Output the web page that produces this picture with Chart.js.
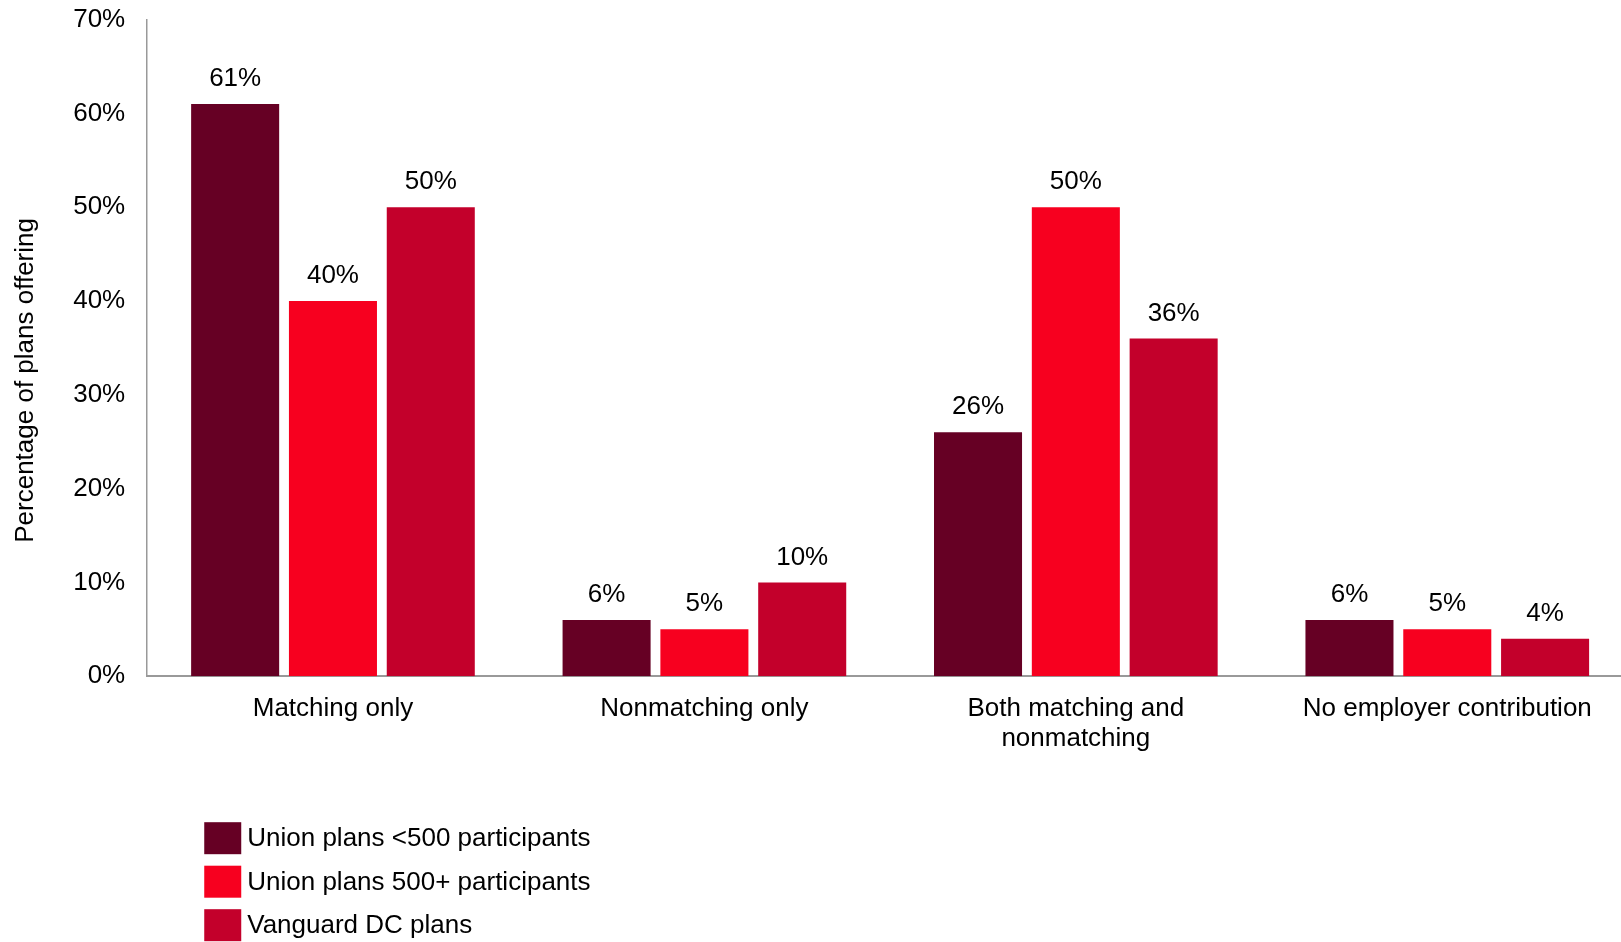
<!DOCTYPE html>
<html>
<head>
<meta charset="utf-8">
<script src="https://cdn.jsdelivr.net/npm/chart.js@4.4.1/dist/chart.umd.min.js"></script>
<style>
  html, body { margin: 0; padding: 0; background: #fff; overflow: hidden; }
  /* the canvas is a bit larger than the window so the plot can run to the edges */
  #wrap { width: 1633px; height: 960px; margin-top: -18px; }
</style>
</head>
<body>
<div id="wrap">
  <canvas id="myChart" width="1633" height="960"></canvas>
</div>
<script>
const categories = [
  "Matching only",
  "Nonmatching only",
  ["Both matching and", "nonmatching"],
  "No employer contribution",
];
const seriesNames = [
  "Union plans <500 participants",
  "Union plans 500+ participants",
  "Vanguard DC plans",
];
const unionSmall = [61, 6, 26, 6];
const unionLarge = [40, 5, 50, 5];
const vanguardDC = [50, 10, 36, 4];
const seriesColors = ["#660024", "#F7001F", "#C3002B"];
const yTicks = [0, 10, 20, 30, 40, 50, 60, 70];

const FONT = "'Liberation Sans', Arial, sans-serif";

// value labels above each bar
const barLabels = {
  id: "barLabels",
  afterDatasetsDraw(chart) {
    const ctx = chart.ctx;
    ctx.save();
    ctx.font = "26px " + FONT;
    ctx.fillStyle = "#000";
    ctx.textAlign = "center";
    ctx.textBaseline = "middle";
    chart.data.datasets.forEach((ds, i) => {
      chart.getDatasetMeta(i).data.forEach((bar, j) => {
        ctx.fillText(ds.data[j] + "%", bar.x, bar.y - 25);
      });
    });
    ctx.restore();
  },
};

// stacked legend under the x labels
const stackedLegend = {
  id: "stackedLegend",
  afterDraw(chart) {
    const ctx = chart.ctx;
    const x0 = chart.chartArea.left + 57;
    let y = chart.chartArea.bottom + 146;
    ctx.save();
    ctx.font = "26px " + FONT;
    ctx.textBaseline = "middle";
    chart.data.datasets.forEach((ds) => {
      ctx.fillStyle = ds.backgroundColor;
      ctx.fillRect(x0, y, 37, 32);
      ctx.fillStyle = "#000";
      ctx.fillText(ds.label, x0 + 43, y + 17);
      y += 43.5;
    });
    ctx.restore();
  },
};

const seriesData = [unionSmall, unionLarge, vanguardDC];

new Chart(document.getElementById("myChart"), {
  type: "bar",
  data: {
    labels: categories,
    datasets: seriesNames.map((name, i) => ({
      label: name,
      data: seriesData[i],
      backgroundColor: seriesColors[i],
      categoryPercentage: 0.79,
      barPercentage: 0.9,
    })),
  },
  options: {
    responsive: false,
    animation: false,
    devicePixelRatio: 1,
    layout: {
      padding: { top: 1, right: 0, bottom: 170, left: 0 },
    },
    plugins: {
      legend: { display: false },
      tooltip: { enabled: false },
    },
    scales: {
      x: {
        grid: { display: false, drawTicks: false },
        border: { display: true, color: "#999", width: 2 },
        ticks: {
          color: "#000",
          font: { family: FONT, size: 26, lineHeight: 1.15 },
          padding: 18,
          maxRotation: 0,
          autoSkip: false,
        },
      },
      y: {
        min: 0,
        max: 70,
        afterBuildTicks: (scale) => {
          scale.ticks = yTicks.map((v) => ({ value: v }));
        },
        grid: { display: false, drawTicks: false },
        border: { display: true, color: "#999", width: 1.5 },
        ticks: {
          color: "#000",
          font: { family: FONT, size: 26 },
          padding: 22,
          callback: (v) => v + "%",
        },
        title: {
          display: true,
          // trailing spaces push the title a little below the axis middle
          text: "Percentage of plans offering         ",
          color: "#000",
          font: { family: FONT, size: 26, lineHeight: 1.2 },
          padding: { top: 10, bottom: 10 },
        },
      },
    },
  },
  plugins: [barLabels, stackedLegend],
});
</script>
</body>
</html>
